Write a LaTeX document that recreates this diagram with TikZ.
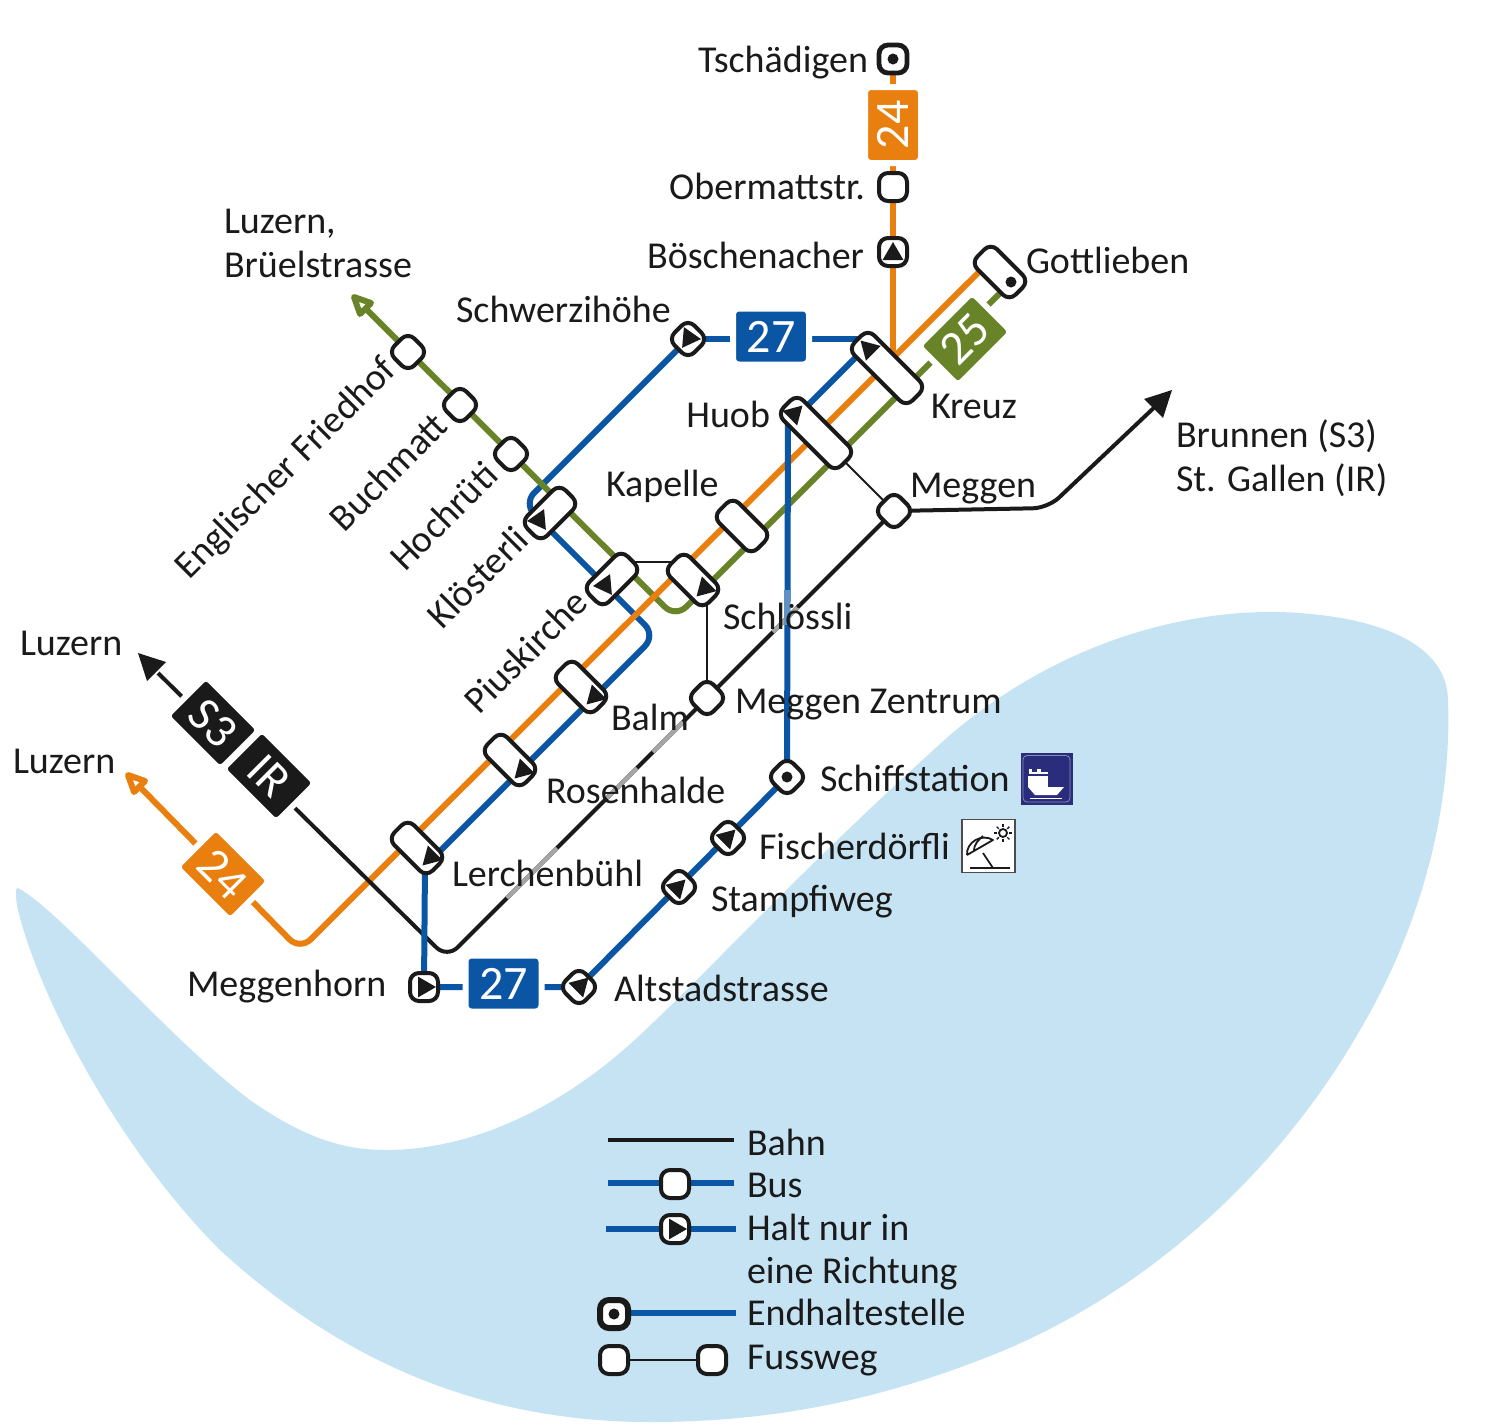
\documentclass[tikz,border=0pt]{standalone}
\usepackage{fontspec}
\setmainfont{Carlito}
\definecolor{cblue}{HTML}{0B56A4}
\definecolor{corange}{HTML}{E97F0E}
\definecolor{cgreen}{HTML}{698428}
\definecolor{cwater}{HTML}{C6E3F4}
\definecolor{cblack}{HTML}{1A1A1A}
\definecolor{cnavy}{HTML}{2A2D7C}
\tikzset{
  lbl/.style={inner sep=0pt,outer sep=0pt,text=cblack,font=\fontsize{19}{19}\selectfont},
  stopbase/.style={draw=cblack,fill=white,line width=2pt,inner sep=0pt,outer sep=0pt,rounded corners=4.5pt},
  halt/.style={stopbase,minimum width=14pt,minimum height=14pt},
  caps/.style={stopbase,minimum width=27pt,minimum height=14pt},
  capl/.style={stopbase,minimum width=41pt,minimum height=14pt},
  badge/.style={draw=white,line width=3pt,inner sep=0pt,outer sep=0pt,rounded corners=3pt,minimum width=38pt,minimum height=28pt,text=white,font=\fontsize{24}{24}\selectfont},
  line/.style={line width=3pt,rounded corners=7.5pt},
  rail/.style={line width=2pt,draw=cblack,rounded corners=7.5pt},
  thin/.style={line width=1pt,draw=cblack},
}
\newcommand{\tri}[3]{\fill[cblack] ([shift={(#1,#2)}]#3:12) -- ([shift={(#1,#2)}]#3+120:12) -- ([shift={(#1,#2)}]#3+240:12) -- cycle;}
\newcommand{\dotm}[2]{\fill[cblack] (#1,#2) circle[radius=5.5];}
\begin{document}
\begin{tikzpicture}[x=0.5pt,y=-0.5pt]
\useasboundingbox (0,0) rectangle (1500,1425);
% water
\fill[cwater] (18,888) .. controls (60,910) and (170,1040) .. (250,1100)
  .. controls (300,1135) and (340,1150) .. (385,1150)
  .. controls (470,1150) and (560,1110) .. (640,1035)
  .. controls (720,960) and (800,870) .. (950,735)
  .. controls (1050,650) and (1170,610) .. (1280,612)
  .. controls (1370,615) and (1447,640) .. (1448,700)
  .. controls (1452,800) and (1425,920) .. (1360,1030)
  .. controls (1280,1170) and (1150,1290) .. (1000,1352)
  .. controls (870,1405) and (760,1422) .. (650,1422)
  .. controls (480,1422) and (340,1360) .. (220,1250)
  .. controls (120,1150) and (40,1000) .. (18,910)
  .. controls (15,895) and (15,888) .. (18,888) -- cycle;
% track coordinates
\coordinate (oGott) at (985,266);
\coordinate (oBend) at (300,950);
\coordinate (oEnd) at (139,786);
\coordinate (oTop) at (893,59);
\coordinate (oJoin) at (893,358);
\coordinate (gGott) at (1009,284);
\coordinate (gBend) at (675.5,617.5);
\coordinate (gEnd) at (365,308);
\coordinate (bA) at (523.5,503.5);
\coordinate (bB) at (655.5,635.5);
\coordinate (bC) at (433,858);
\coordinate (bD) at (425,862);
\coordinate (bKreuz) at (868,339);
\coordinate (bK2) at (870,343);
\coordinate (bH2) at (790,423);
\coordinate (bH3) at (788,420);
\coordinate (kL) at (158,673);
\coordinate (kBend) at (447,958);
\coordinate (kC) at (1048,508);
\coordinate (kR) at (1160,402);
\coordinate (pW) at (630,562);
\coordinate (pE) at (680,562);
\coordinate (sS) at (707,600);
% stops first as coordinates used by lines
\coordinate (cSchw) at (688,339);
\coordinate (cMH) at (424,987);
\coordinate (cAS) at (579,987);
\coordinate (cSchiff) at (787,777);
\coordinate (cMeg) at (894,511);
\coordinate (cMZ) at (707,698);
\coordinate (cHuob) at (816,433);
% lines
\draw[line,cblue] (cSchw) -- (bA) -- (bB) -- (bC);
\draw[line,cgreen] (gGott) -- (gBend) -- (gEnd);
\draw[line,corange] (oGott) -- (oBend) -- (oEnd);
\draw[line,corange] (oTop) -- (oJoin);
\draw[rail] (kL) -- (kBend) -- (cMZ) -- (cMeg) -- (kC) -- (kR);
\draw[line width=2pt,draw=gray!70] (507,898) -- (557,848);
\draw[line width=2pt,draw=gray!70] (607,798) -- (637,768);
\draw[line width=2pt,draw=gray!70] (653,752) -- (683,722);
\draw[line width=2pt,draw=gray!70] (773,632) -- (798,607);
\draw[line,cblue] (bD) -- (cMH) -- (cAS);
\draw[line,cblue] (cAS) -- (cSchiff) -- (bH3);
\draw[line,cblue] (bH2) -- (bK2);
\draw[line,cblue] (cSchw) -- (bKreuz);
\draw[line width=3pt,draw=cblue!65!white] (787,590) -- (787,625);
\draw[thin] (cHuob) -- (cMeg);
\draw[thin] (pW) -- (pE);
\draw[thin] (sS) -- (cMZ);
% arrow heads
\fill[cblack] (138,653) -- (166,662) -- (147,681) -- cycle;
\fill[cblack] (1172,390) -- (1144,399) -- (1163,418) -- cycle;
\draw[corange,fill=white,line width=3pt,line join=round] (128,775) -- (145,781) -- (134,792) -- cycle;
\draw[cgreen,fill=white,line width=3pt,line join=round] (354,297) -- (371,303) -- (360,314) -- cycle;
% stops
\node[halt,line width=2.4pt] (tsch) at (893,59) {};
\node[halt] (ober) at (893,187) {};
\node[halt] (bosch) at (893,252) {};
\node[capl,rotate=-45] (kreuz) at (887,368) {};
\node[capl,rotate=-45] (huob) at (816,433) {};
\node[caps,rotate=-45] (gott) at (1000,272) {};
\node[caps,rotate=-45] (kap) at (742,526) {};
\node[caps,rotate=-45] (schl) at (693,580) {};
\node[caps,rotate=45] (klo) at (550,513) {};
\node[caps,rotate=45] (pius) at (612,579) {};
\node[caps,rotate=-45] (balm) at (581,687) {};
\node[caps,rotate=-45] (rose) at (510,760) {};
\node[caps,rotate=-45] (lerch) at (417,848) {};
\node[halt,rotate=45] (schw) at (cSchw) {};
\node[halt,rotate=45] (meg) at (cMeg) {};
\node[halt,rotate=45] (mz) at (cMZ) {};
\node[halt,rotate=45] (ef) at (408,352) {};
\node[halt,rotate=45] (buch) at (460,405) {};
\node[halt,rotate=45] (hoch) at (511,454) {};
\node[halt] (mh) at (cMH) {};
\node[halt,rotate=45] (as) at (cAS) {};
\node[halt,rotate=45] (stamp) at (679,887) {};
\node[halt,rotate=45] (fisch) at (728,838) {};
\node[halt,rotate=45] (schiff) at (cSchiff) {};
% stop marks
\dotm{893}{59}
\dotm{1011}{282}
\dotm{787}{777}
\tri{893}{254}{-90}
\tri{689}{338}{5}
\tri{869}{349}{-15}
\tri{794}{414}{-45}
\tri{539}{520}{55}
\tri{605}{585}{55}
\tri{705}{588}{15}
\tri{595}{696}{15}
\tri{523}{770}{15}
\tri{431}{857}{15}
\tri{424}{987}{0}
\tri{580}{986}{-45}
\tri{677}{888}{-45}
\tri{727}{838}{-45}
% badges
\node[badge,fill=corange,rotate=90] (b24t) at (893,125) {24};
\node[badge,fill=cblue] (b27t) at (771,336.5) {27};
\node[badge,fill=cblue] (b27b) at (503.5,983.5) {27};
\node[badge,fill=cgreen,rotate=45] (b25) at (965,339) {25};
\node[badge,fill=corange,rotate=-45] (b24l) at (223,874) {24};
\node[badge,fill=cblack,rotate=-45] (bs3) at (213,723) {S3};
\node[badge,fill=cblack,rotate=-45] (bir) at (269,776) {IR};
% labels
\node[lbl,anchor=base east] (t1) at (868,72) {Tschädigen};
\node[lbl,anchor=base east] (t2) at (865,199) {Obermattstr.};
\node[lbl,anchor=base east] (t3) at (864,268) {Böschenacher};
\node[lbl,anchor=base west] (t4) at (1026,273) {Gottlieben};
\node[lbl,anchor=base west] (t5) at (456,322) {Schwerzihöhe};
\node[lbl,anchor=base west] (t6) at (224,233) {Luzern,};
\node[lbl,anchor=base west] (t7) at (224,277) {Brüelstrasse};
\node[lbl,anchor=base east] (t8) at (770,427) {Huob};
\node[lbl,anchor=base west] (t9) at (931,418) {Kreuz};
\node[lbl,anchor=base west] (t10) at (606,496) {Kapelle};
\node[lbl,anchor=base west] (t11) at (910,497) {Meggen};
\node[lbl,anchor=base west] (t12) at (1176,447) {Brunnen (S3)};
\node[lbl,anchor=base west] (t13) at (1176,491) {St. Gallen (IR)};
\node[lbl,anchor=base west] (t14) at (723,629) {Schlössli};
\node[lbl,anchor=base west] (t15) at (735,713) {Meggen Zentrum};
\node[lbl,anchor=base west] (t16) at (611,730) {Balm};
\node[lbl,anchor=base west] (t17) at (546,803) {Rosenhalde};
\node[lbl,anchor=base west] (t18) at (820,791) {Schiffstation};
\node[lbl,anchor=base west] (t19) at (759,859) {Fischerdörfli};
\node[lbl,anchor=base west] (t20) at (711,911) {Stampfiweg};
\node[lbl,anchor=base west] (t21) at (452,886) {Lerchenbühl};
\node[lbl,anchor=base west] (t22) at (187,996) {Meggenhorn};
\node[lbl,anchor=base west] (t23) at (614,1001) {Altstadstrasse};
\node[lbl,anchor=base west] (t24) at (20,655) {Luzern};
\node[lbl,anchor=base west] (t25) at (13,773) {Luzern};
\node[lbl,anchor=base east,rotate=45] (t26) at (398,372) {Englischer Friedhof};
\node[lbl,anchor=base east,rotate=45] (t27) at (450,428) {Buchmatt};
\node[lbl,anchor=base east,rotate=45] (t28) at (500,478) {Hochrüti};
\node[lbl,anchor=base east,rotate=45] (t29) at (531,542) {Klösterli};
\node[lbl,anchor=base east,rotate=45] (t30) at (590,605) {Piuskirche};
% legend
\coordinate (l1a) at (608,1140); \coordinate (l1b) at (734,1140);
\draw[rail] (l1a) -- (l1b);
\coordinate (l2a) at (608,1183); \coordinate (l2b) at (734,1183);
\draw[line,cblue] (l2a) -- (l2b);
\coordinate (l3a) at (606,1229); \coordinate (l3b) at (736,1229);
\draw[line,cblue] (l3a) -- (l3b);
\coordinate (l4b) at (736,1313);
\draw[line,cblue] (614,1313) -- (l4b);
\node[halt] (lbus) at (675,1184) {};
\node[halt] (lhalt) at (675,1229) {};
\tri{675}{1229}{0}
\node[halt,line width=3pt] (lend) at (614,1314) {};
\dotm{614}{1314}
\node[halt] (lf1) at (614,1360) {};
\node[halt] (lf2) at (712,1360) {};
\draw[thin] (lf1) -- (lf2);
\node[lbl,anchor=base west] (t31) at (747,1155) {Bahn};
\node[lbl,anchor=base west] (t32) at (747,1197) {Bus};
\node[lbl,anchor=base west] (t33) at (747,1240) {Halt nur in};
\node[lbl,anchor=base west] (t34) at (747,1283) {eine Richtung};
\node[lbl,anchor=base west] (t35) at (747,1325) {Endhaltestelle};
\node[lbl,anchor=base west] (t36) at (747,1369) {Fussweg};
% ship icon
\fill[cnavy] (1020.5,753) rectangle (1072.5,804.5);
\draw[white!45!cnavy,line width=0.4pt,rounded corners=2pt] (1023,755.5) rectangle (1070,802);
\fill[white] (1028,787) -- (1064,787) -- (1057,795) -- (1035,795) -- cycle;
\fill[white] (1028,776) rectangle (1048,787);
\fill[white] (1029,772) rectangle (1048,774);
\fill[white] (1029,769) rectangle (1032,772);
\fill[white] (1037,769) rectangle (1041,772);
\draw[white,line width=0.5pt] (1030,798) -- (1062,798);
% beach icon
\draw[gray!60!black,fill=white,line width=0.8pt] (962,819.5) rectangle (1015,872.5);
\draw[cblack,line width=0.9pt] (970,868) -- (1010,868);
\draw[cblack,line width=0.9pt] (983,853) -- (993,868);
\draw[cblack,line width=0.9pt,line join=round] (967,855) .. controls (966,842) and (982,833) .. (993,840) -- (967,855);
\draw[cblack,line width=0.9pt] (974,850) .. controls (974,845) and (978,840) .. (983,836);
\draw[cblack,line width=0.9pt] (1003,833) circle[radius=4];
\foreach \a in {0,45,...,315} {\draw[cblack,line width=0.7pt] ([shift={(1003,833)}]\a:6) -- ([shift={(1003,833)}]\a:9);}
\end{tikzpicture}
\end{document}
